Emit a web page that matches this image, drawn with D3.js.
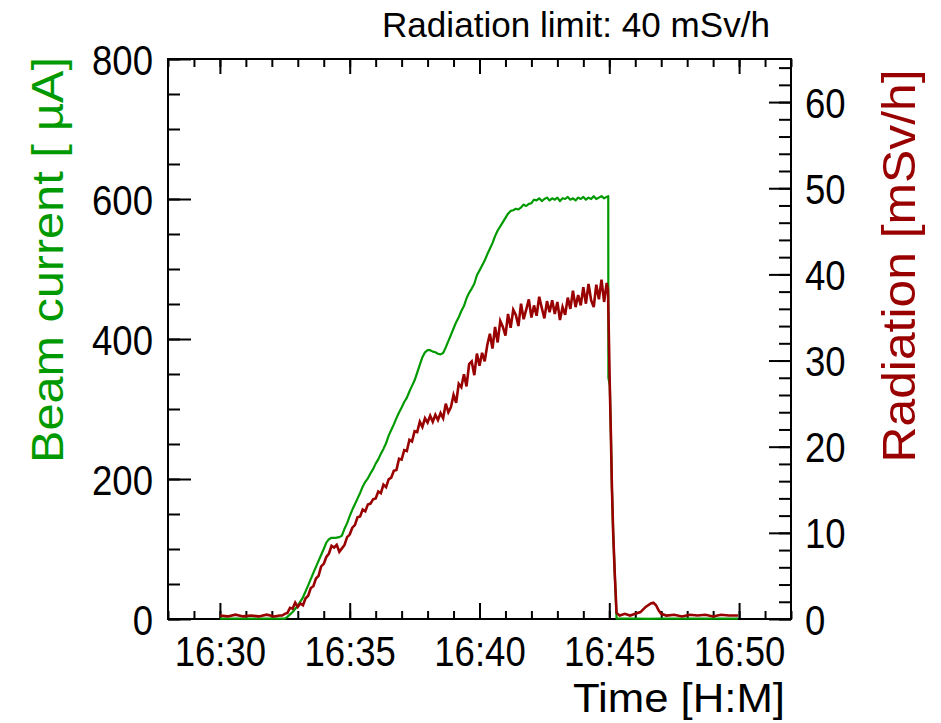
<!DOCTYPE html>
<html>
<head>
<meta charset="utf-8">
<script src="https://cdn.jsdelivr.net/npm/d3@7"></script>
<style>
  html, body { margin: 0; padding: 0; background: #fff; }
  svg { display: block; font-family: "Liberation Sans", Arial, Helvetica, sans-serif; }
</style>
</head>
<body>
<svg id="chart" width="941" height="723"></svg>
<script>
// ---------- DATA (time in minutes after 16:00) ----------
const xTickValues = [30, 35, 40, 45, 50];
const xTickLabels = ["16:30", "16:35", "16:40", "16:45", "16:50"];
const leftTickValues = [0, 200, 400, 600, 800];
const rightTickValues = [0, 10, 20, 30, 40, 50, 60];

const beamTime = [30.0, 32.5, 32.6, 32.8, 33.0, 33.2, 33.4, 33.6, 33.8, 34.0, 34.1, 34.2, 34.3, 34.45, 34.6, 34.7, 34.8, 34.9,
  35.0, 35.1, 35.2, 35.3, 35.4, 35.5, 35.6, 35.7, 35.8, 35.9, 36.0, 36.1, 36.2, 36.3, 36.4, 36.5, 36.6, 36.7, 36.8, 36.9,
  37.0, 37.1, 37.2, 37.3, 37.4, 37.5, 37.6, 37.7, 37.8, 37.9, 38.0, 38.1, 38.2, 38.3, 38.4, 38.5, 38.6, 38.7, 38.8, 38.9,
  39.0, 39.1, 39.2, 39.3, 39.4, 39.5, 39.6, 39.7, 39.8, 39.9, 40.0, 40.1, 40.2, 40.3, 40.4, 40.5, 40.6, 40.7, 40.8, 40.9,
  41.0, 41.1, 41.2, 41.3, 41.4, 41.5, 41.6, 41.7, 41.8, 41.9, 42.0, 42.1, 42.2, 42.3, 42.4, 42.5, 42.6, 42.7, 42.8, 42.9,
  43.0, 43.1, 43.2, 43.3, 43.4, 43.5, 43.6, 43.7, 43.8, 43.9, 44.0, 44.1, 44.2, 44.3, 44.4, 44.5, 44.6, 44.7, 44.8, 44.9,
  44.96, 44.965, 45.02, 45.06, 45.10, 45.15, 45.21, 45.28, 45.5, 46.0, 46.5, 47.0, 47.5, 48.0, 48.5, 49.0, 49.5, 49.96];
const beamCurrent = [0.5, 0.5, 3, 10, 19, 31, 48, 66, 83, 100, 109, 114, 116, 116, 117, 119, 129, 137,
  147, 156, 164, 172, 180, 189, 196, 201, 208, 214, 222, 228, 236, 243, 251, 262, 270, 278, 287, 295,
  302, 310, 316, 325, 333, 341, 352, 363, 374, 381, 384, 384, 382, 381, 379, 378, 380, 388, 397, 406,
  415, 424, 431, 440, 447, 458, 466, 472, 479, 491, 498, 505, 512, 521, 529, 537, 547, 555, 561, 567,
  573, 579, 583, 584, 586, 585, 588, 592, 590, 593, 594, 599, 598, 601, 597, 600, 602, 598, 601, 599,
  602, 597, 601, 600, 603, 599, 601, 598, 602, 600, 603, 599, 602, 600, 604, 600, 602, 604, 601, 603,
  604, 345, 333, 266, 189, 123, 66, 0.5, 0.4, 0.5, 0.3, 0.5, 0.4, 0.5, 0.4, 0.5, 0.4, 0.5];

const radTime = [30.0, 30.3, 30.6, 30.9, 31.2, 31.5, 31.8, 32.1, 32.3,
  32.4, 32.5, 32.6, 32.7, 32.8, 32.9, 33.0, 33.1, 33.2, 33.3, 33.4, 33.5, 33.6, 33.7, 33.8, 33.9,
  34.0, 34.1, 34.2, 34.3, 34.4, 34.5, 34.6, 34.7, 34.8, 34.9, 35.0, 35.1, 35.2, 35.3, 35.4, 35.5, 35.6, 35.7, 35.8, 35.9,
  36.0, 36.1, 36.2, 36.3, 36.4, 36.5, 36.6, 36.7, 36.8, 36.9, 37.0, 37.1, 37.2, 37.3, 37.4, 37.5, 37.6, 37.7, 37.8, 37.9,
  38.0, 38.1, 38.2, 38.3, 38.4, 38.5, 38.6, 38.7, 38.8, 38.9, 39.0, 39.1, 39.2, 39.3, 39.4, 39.5, 39.6, 39.7, 39.8, 39.9,
  40.0, 40.1, 40.2, 40.3, 40.4, 40.5, 40.6, 40.7, 40.8, 40.9, 41.0, 41.1, 41.2, 41.3, 41.4, 41.5, 41.6, 41.7, 41.8, 41.9,
  42.0, 42.1, 42.2, 42.3, 42.4, 42.5, 42.6, 42.7, 42.8, 42.9, 43.0, 43.1, 43.2, 43.3, 43.4, 43.5, 43.6, 43.7, 43.8, 43.9,
  44.0, 44.1, 44.2, 44.3, 44.4, 44.5, 44.6, 44.7, 44.8, 44.9, 44.95,
  45.02, 45.06, 45.10, 45.15, 45.21, 45.28, 45.4, 45.6, 45.8, 46.0, 46.2, 46.4, 46.6, 46.7, 46.8, 46.9, 47.0,
  47.2, 47.5, 47.8, 48.1, 48.4, 48.7, 49.0, 49.3, 49.6, 49.96];
const radiation = [0.4, 0.3, 0.5, 0.3, 0.4, 0.3, 0.5, 0.3, 0.4,
  0.4, 0.6, 0.7, 1.3, 1.2, 1.9, 1.4, 1.8, 1.6, 2.4, 2.7, 3.6, 3.8, 4.7, 5.0, 6.1,
  6.4, 7.2, 7.6, 8.5, 8.3, 8.6, 7.8, 8.2, 8.6, 9.5, 9.8, 10.6, 10.9, 11.8, 11.9, 12.7, 12.5, 13.3, 13.4, 13.9,
  14.0, 14.8, 14.6, 15.6, 15.3, 16.2, 16.4, 17.2, 17.3, 18.6, 18.5, 19.6, 19.5, 20.8, 20.6, 21.8, 21.7, 22.9, 22.3, 23.3,
  22.8, 23.6, 22.9, 23.7, 23.1, 23.9, 23.3, 25.0, 24.0, 24.6, 26.0, 25.1, 27.3, 26.9, 28.4, 27.0, 29.6, 29.9, 28.3, 30.8,
  29.4, 30.9, 29.9, 31.8, 33.1, 31.4, 33.9, 32.1, 34.6, 33.9, 32.9, 35.4, 33.8, 35.9, 35.3, 34.0, 36.6, 34.8, 35.9, 37.1,
  35.0, 36.4, 35.2, 37.4, 36.1, 34.9, 36.9, 35.6, 37.0, 35.4, 36.8, 34.7, 36.2, 35.3, 37.3, 36.0, 38.1, 36.2, 37.6, 36.4,
  38.5, 36.6, 38.9, 37.0, 36.2, 38.8, 37.1, 39.4, 36.8, 39.0, 38.2,
  27.0, 21.6, 15.4, 10.0, 5.3, 0.7, 0.4, 0.6, 0.4, 0.6, 0.8, 1.4, 1.8, 1.9, 1.6, 1.0, 0.6,
  0.4, 0.5, 0.3, 0.5, 0.4, 0.5, 0.3, 0.5, 0.4, 0.4];

// ---------- LAYOUT ----------
const L = 168, R = 791, T = 59, B = 619;
const GREEN = "#009a00", RED = "#990000";
const FONT_TICK = 42;

const svg = d3.select("#chart");
const x = d3.scaleLinear().domain([28, 52]).range([L, R]);
const yL = d3.scaleLinear().domain([0, 800]).range([B, T]);
const yR = d3.scaleLinear().domain([0, 65]).range([B, T]);

function squeeze(sel, f) {
  sel.each(function () {
    const w = this.getComputedTextLength();
    this.setAttribute("textLength", w * f);
    this.setAttribute("lengthAdjust", "spacingAndGlyphs");
  });
}

function styleAxis(g) {
  g.selectAll("path.domain").remove();
  g.selectAll("line").attr("stroke", "#000").attr("stroke-width", 2);
  g.selectAll("text").attr("fill", "#000").attr("font-size", FONT_TICK)
    .attr("font-family", "'Liberation Sans', Arial, sans-serif");
}

const minutesMinor = d3.range(28, 53, 1);
// Bottom axis
svg.append("g").attr("transform", `translate(0,${B})`)
  .call(d3.axisBottom(x).tickValues(minutesMinor).tickSize(-8).tickFormat(""))
  .call(styleAxis);
const gB = svg.append("g").attr("transform", `translate(0,${B})`)
  .call(d3.axisBottom(x).tickValues(xTickValues).tickSize(-16).tickPadding(17)
    .tickFormat((d, i) => xTickLabels[i]))
  .call(styleAxis);
gB.selectAll("text").call(squeeze, 0.87);

// Top axis
svg.append("g").attr("transform", `translate(0,${T})`)
  .call(d3.axisTop(x).tickValues(minutesMinor).tickSize(-8).tickFormat(""))
  .call(styleAxis);
svg.append("g").attr("transform", `translate(0,${T})`)
  .call(d3.axisTop(x).tickValues(xTickValues).tickSize(-15).tickFormat(""))
  .call(styleAxis);

// Left axis
svg.append("g").attr("transform", `translate(${L},0)`)
  .call(d3.axisLeft(yL).tickValues(d3.range(0, 801, 50)).tickSize(-12).tickFormat(""))
  .call(styleAxis);
const gL = svg.append("g").attr("transform", `translate(${L},0)`)
  .call(d3.axisLeft(yL).tickValues(leftTickValues).tickSize(-23).tickPadding(15).tickFormat(d3.format("d")))
  .call(styleAxis);
gL.selectAll("text").attr("dy", "0.36em").call(squeeze, 0.87);

// Right axis
svg.append("g").attr("transform", `translate(${R},0)`)
  .call(d3.axisRight(yR).tickValues(d3.range(0, 65, 2)).tickSize(-12).tickFormat(""))
  .call(styleAxis);
const gR = svg.append("g").attr("transform", `translate(${R},0)`)
  .call(d3.axisRight(yR).tickValues(rightTickValues).tickSize(-22).tickPadding(14).tickFormat(d3.format("d")))
  .call(styleAxis);
gR.selectAll("text").attr("dy", "0.36em").call(squeeze, 0.87);

// Frame
svg.append("rect").attr("x", L).attr("y", T).attr("width", R - L).attr("height", B - T)
  .attr("fill", "none").attr("stroke", "#000").attr("stroke-width", 2);

// Lines
const beamData = beamTime.map((t, i) => [t, beamCurrent[i]]);
const radData = radTime.map((t, i) => [t, radiation[i]]);

svg.append("path").datum(beamData)
  .attr("fill", "none").attr("stroke", GREEN).attr("stroke-width", 2.2)
  .attr("stroke-linejoin", "round")
  .attr("d", d3.line().x(d => x(d[0])).y(d => yL(d[1])));

svg.append("path").datum(radData)
  .attr("fill", "none").attr("stroke", RED).attr("stroke-width", 2.6)
  .attr("stroke-linejoin", "miter")
  .attr("d", d3.line().x(d => x(d[0])).y(d => yR(d[1])));

// Titles
svg.append("text").attr("x", 382).attr("y", 37)
  .attr("font-size", 35).attr("fill", "#000")
  .attr("textLength", 388).attr("lengthAdjust", "spacingAndGlyphs")
  .text("Radiation limit: 40 mSv/h");

svg.append("text").attr("x", 785).attr("y", 712).attr("text-anchor", "end")
  .attr("font-size", 40).attr("fill", "#000")
  .attr("textLength", 212).attr("lengthAdjust", "spacingAndGlyphs")
  .text("Time [H:M]");

svg.append("text").attr("transform", "translate(63,260) rotate(-90)")
  .attr("text-anchor", "middle").attr("font-size", 45).attr("fill", GREEN)
  .attr("textLength", 406).attr("lengthAdjust", "spacingAndGlyphs")
  .text("Beam current [ \u00b5A]");

svg.append("text").attr("transform", "translate(915,266) rotate(-90)")
  .attr("text-anchor", "middle").attr("font-size", 47).attr("fill", RED)
  .attr("textLength", 393).attr("lengthAdjust", "spacingAndGlyphs")
  .text("Radiation [mSv/h]");
</script>
</body>
</html>
